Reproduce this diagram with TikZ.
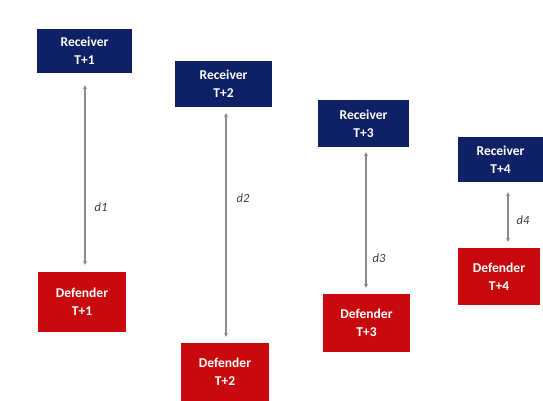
\documentclass[tikz,border=0pt]{standalone}
\usepackage{fontspec}
\setmainfont{Carlito}
\usetikzlibrary{arrows.meta}
\definecolor{recv}{RGB}{14,33,102}
\definecolor{defc}{RGB}{200,10,14}
\definecolor{conn}{RGB}{140,140,140}
\definecolor{lbl}{RGB}{60,60,60}
\begin{document}
\begin{tikzpicture}[x=1pt,y=-1pt,
  boxbase/.style={inner sep=0pt, align=center, text=white, font=\fontsize{13.5}{18}\selectfont\bfseries},
  recvbox/.style={boxbase, fill=recv},
  defbox/.style={boxbase, fill=defc},
  link/.style={draw=conn, line width=1.1pt, {Stealth[length=4pt,width=4pt]}-{Stealth[length=4pt,width=4pt]}},
  dlabel/.style={text=lbl, font=\fontsize{12.5}{14}\selectfont\itshape, inner sep=0pt}]
\useasboundingbox (0,0) rectangle (543,400);
\fill[white] (0,0) rectangle (543,400);

\node[recvbox, minimum width=95pt, minimum height=44pt] (r1) at (84.5,51) {Receiver\\T+1};
\node[defbox, minimum width=88pt, minimum height=60pt] (d1) at (82,302) {Defender\\T+1};
\node[recvbox, minimum width=97pt, minimum height=46pt] (r2) at (223.5,84) {Receiver\\T+2};
\node[defbox, minimum width=88pt, minimum height=58pt] (d2) at (225,372) {Defender\\T+2};
\node[recvbox, minimum width=91pt, minimum height=47pt] (r3) at (363.5,123.5) {Receiver\\T+3};
\node[defbox, minimum width=87pt, minimum height=58pt] (d3) at (366.5,323) {Defender\\T+3};
\node[recvbox, minimum width=85pt, minimum height=45pt] (r4) at (500.5,159.5) {Receiver\\T+4};
\node[defbox, minimum width=82pt, minimum height=57pt] (d4) at (499,276.5) {Defender\\T+4};

\draw[link, shorten <=12pt, shorten >=7pt] ([xshift=0.5pt]r1.south) -- ([xshift=3pt]d1.north);
\draw[link, shorten <=6pt, shorten >=6pt] ([xshift=2.5pt]r2.south) -- ([xshift=1pt]d2.north);
\draw[link, shorten <=5pt, shorten >=6pt] ([xshift=2.5pt]r3.south) -- ([xshift=-0.5pt]d3.north);
\draw[link, shorten <=10pt, shorten >=6pt] ([xshift=7.5pt]r4.south) -- ([xshift=9pt]d4.north);

\node[dlabel] (l1) at (101,207) {d1};
\node[dlabel] (l2) at (243,198) {d2};
\node[dlabel] (l3) at (379,258) {d3};
\node[dlabel] (l4) at (523,220) {d4};
\end{tikzpicture}
\end{document}
